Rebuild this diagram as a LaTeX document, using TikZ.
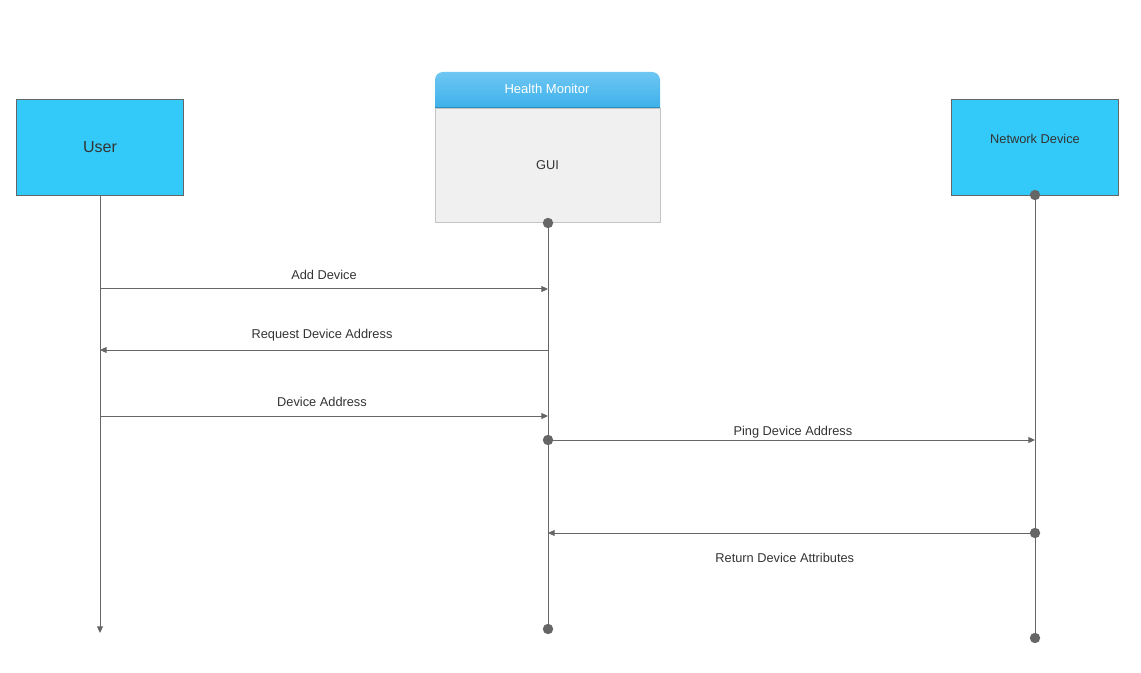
\documentclass[tikz,border=0pt]{standalone}
\usepackage{fontspec}
\setmainfont{Liberation Sans}
\usetikzlibrary{arrows.meta}
\definecolor{actorblue}{HTML}{33CAF9}
\definecolor{linegray}{HTML}{666666}
\definecolor{headtop}{HTML}{6EC6F3}
\definecolor{headbot}{HTML}{3DB1EA}
\definecolor{bodygray}{HTML}{F0F0F0}
\definecolor{bodyline}{HTML}{C4C4C4}
\begin{document}
\begin{tikzpicture}[x=0.75pt, y=-0.75pt, font=\fontsize{9.6}{11}\selectfont, text=black!80,
  actor/.style={draw=linegray, fill=actorblue, minimum width=125.25pt, minimum height=72pt, inner sep=0pt},
  life/.style={draw=linegray, line width=0.75pt},
  msg/.style={draw=linegray, line width=0.75pt, -{Triangle[length=5pt, width=4.5pt]}},
  dot/.style={circle, fill=linegray, inner sep=0pt, minimum size=7.8pt}]
\useasboundingbox (0,0) rectangle (1141,673);
% actors
\node[actor, font=\fontsize{12}{14}\selectfont] (user) at (100,147) {User};
\node[actor, label={[yshift=6pt]center:Network Device}] (net) at (1035,147) {};
\node[draw=bodyline, fill=bodygray, minimum width=168.75pt, minimum height=85.5pt, inner sep=0pt] (gui) at (547.5,165) {GUI};
\shade[top color=headtop, bottom color=headbot] (435,108) -- (435,80) arc(180:270:8) -- (652,72) arc(270:360:8) -- (660,108) -- cycle;
\draw[headbot!80!black, line width=0.75pt] (435,108) -- (660,108);
\node[text=white, font=\fontsize{9.8}{11}\selectfont] (hdr) at (547,89) {Health Monitor};
% lifelines
\coordinate (uend) at (100,633);
\node[dot] (gtop) at (548,223) {};
\node[dot] (gbot) at (548,629) {};
\node[dot] (ntop) at (1035,195) {};
\node[dot] (nbot) at (1035,638) {};
\draw[msg] (user) -- (uend);
\draw[life] (gtop) -- (gbot);
\draw[life] (ntop) -- (nbot);
% message points
\coordinate (u1) at (100,289);
\coordinate (g1) at (548,289);
\coordinate (u2) at (100,350);
\coordinate (g2) at (548,350);
\coordinate (u3) at (100,416);
\coordinate (g3) at (548,416);
\node[dot] (g4) at (548,440) {};
\coordinate (n4) at (1035,440);
\coordinate (g5) at (548,533);
\node[dot] (n5) at (1035,533) {};
% messages
\draw[msg] (u1) -- node[above=3.5pt] (m1) {Add Device} (g1);
\draw[msg] (g2) -- node[above=3pt, xshift=-1.5pt] (m2) {Request Device Address} (u2);
\draw[msg] (u3) -- node[above=3.5pt, xshift=-1.5pt] (m3) {Device Address} (g3);
\draw[msg] (g4) -- node[above=-2pt, xshift=-1pt] (m4) {Ping Device Address} (n4);
\draw[msg] (n5) -- node[below=11.5pt, xshift=-3pt] (m5) {Return Device Attributes} (g5);
\end{tikzpicture}
\end{document}
